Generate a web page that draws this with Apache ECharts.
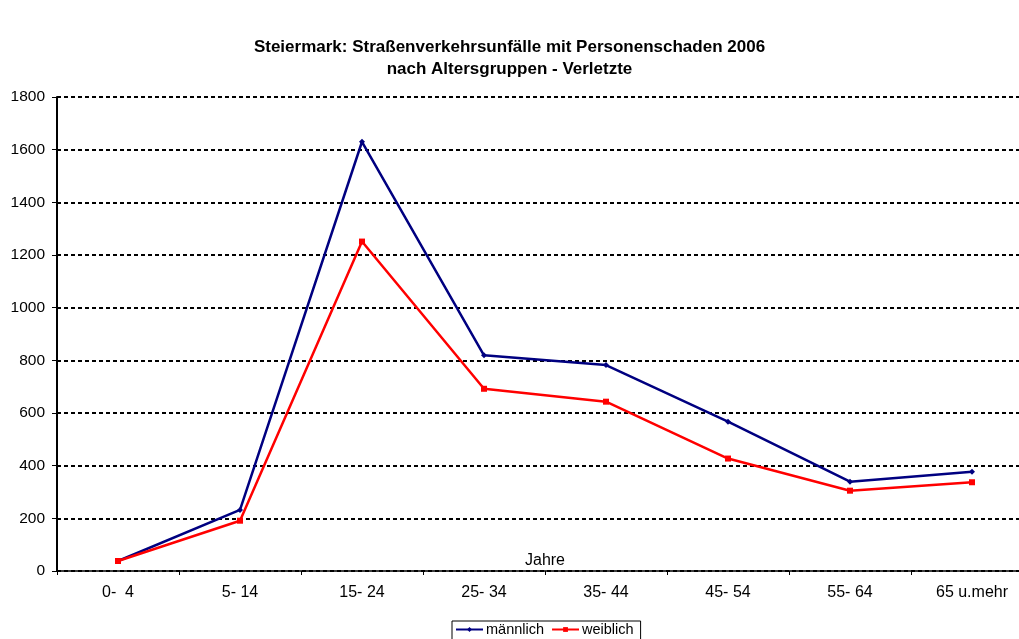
<!DOCTYPE html>
<html>
<head>
<meta charset="utf-8">
<script src="https://cdn.jsdelivr.net/npm/echarts@6/dist/echarts.min.js"></script>
<style>
  html, body { margin: 0; padding: 0; background: #fff; }
  #chart { width: 1019px; height: 639px; }
</style>
</head>
<body>
<div id="chart"></div>
<script>
// Altersgruppen
const categories = ['0-  4', '5- 14', '15- 24', '25- 34', '35- 44', '45- 54', '55- 64', '65 u.mehr']
// Verletzte je Geschlecht
const maennlich = [38, 232, 1630, 819, 782, 567, 339, 377]
const weiblich = [38, 191, 1251, 692, 643, 427, 305, 337]
const yTicks = [0, 200, 400, 600, 800, 1000, 1200, 1400, 1600, 1800]

const font = 'Liberation Sans, Arial, sans-serif'
const chart = echarts.init(document.getElementById('chart'))

const option = {
  animation: false,
  backgroundColor: '#fff',
  title: {
    text: 'Steiermark: Straßenverkehrsunfälle mit Personenschaden 2006\nnach Altersgruppen - Verletzte',
    left: 'center',
    top: 31,
    textStyle: {
      fontFamily: font,
      fontSize: 17,
      fontWeight: 'bold',
      color: '#000',
      lineHeight: 22
    }
  },
  legend: {
    left: 452,
    top: 621,
    itemGap: 7,
    itemWidth: 27,
    itemHeight: 6,
    padding: [1, 7, 4, 3],
    borderColor: '#000',
    borderWidth: 1,
    borderRadius: 0,
    textStyle: { fontFamily: font, fontSize: 14.5, color: '#000', padding: [0, 0, 0, -2] },
    data: ['männlich', 'weiblich']
  },
  grid: {
    left: 57,
    width: 976,
    top: 97,
    bottom: 68,
    containLabel: false,
    outerBoundsMode: 'none'
  },
  xAxis: {
    type: 'category',
    data: categories,
    boundaryGap: true,
    name: 'Jahre',
    nameLocation: 'middle',
    nameGap: -18,
    nameMoveOverlap: false,
    nameTextStyle: { fontFamily: font, fontSize: 16, color: '#000' },
    axisLine: { lineStyle: { color: '#000', width: 1.5 } },
    axisTick: { show: true, length: 4, lineStyle: { color: '#000' } },
    axisLabel: { fontFamily: font, fontSize: 16, color: '#000', margin: 14 },
    splitLine: { show: false }
  },
  yAxis: {
    type: 'value',
    min: 0,
    max: yTicks[yTicks.length - 1],
    interval: yTicks[1] - yTicks[0],
    axisLine: { show: true, lineStyle: { color: '#000', width: 2 } },
    axisTick: { show: true, length: 5, lineStyle: { color: '#000' } },
    axisLabel: { fontFamily: font, fontSize: 15.5, color: '#000', margin: 12, formatter: v => String(v) },
    splitLine: {
      show: true,
      lineStyle: { color: '#000', width: 2, type: [4, 3] }
    }
  },
  series: [
    {
      name: 'männlich',
      type: 'line',
      data: maennlich,
      color: '#000080',
      symbol: 'diamond',
      symbolSize: 6,
      lineStyle: { width: 2.5, color: '#000080' },
      itemStyle: { color: '#000080' },
      z: 3
    },
    {
      name: 'weiblich',
      type: 'line',
      data: weiblich,
      color: '#ff0000',
      symbol: 'rect',
      symbolSize: 6,
      lineStyle: { width: 2.5, color: '#ff0000' },
      itemStyle: { color: '#ff0000' },
      z: 4
    }
  ]
}

chart.setOption(option)
</script>
</body>
</html>
